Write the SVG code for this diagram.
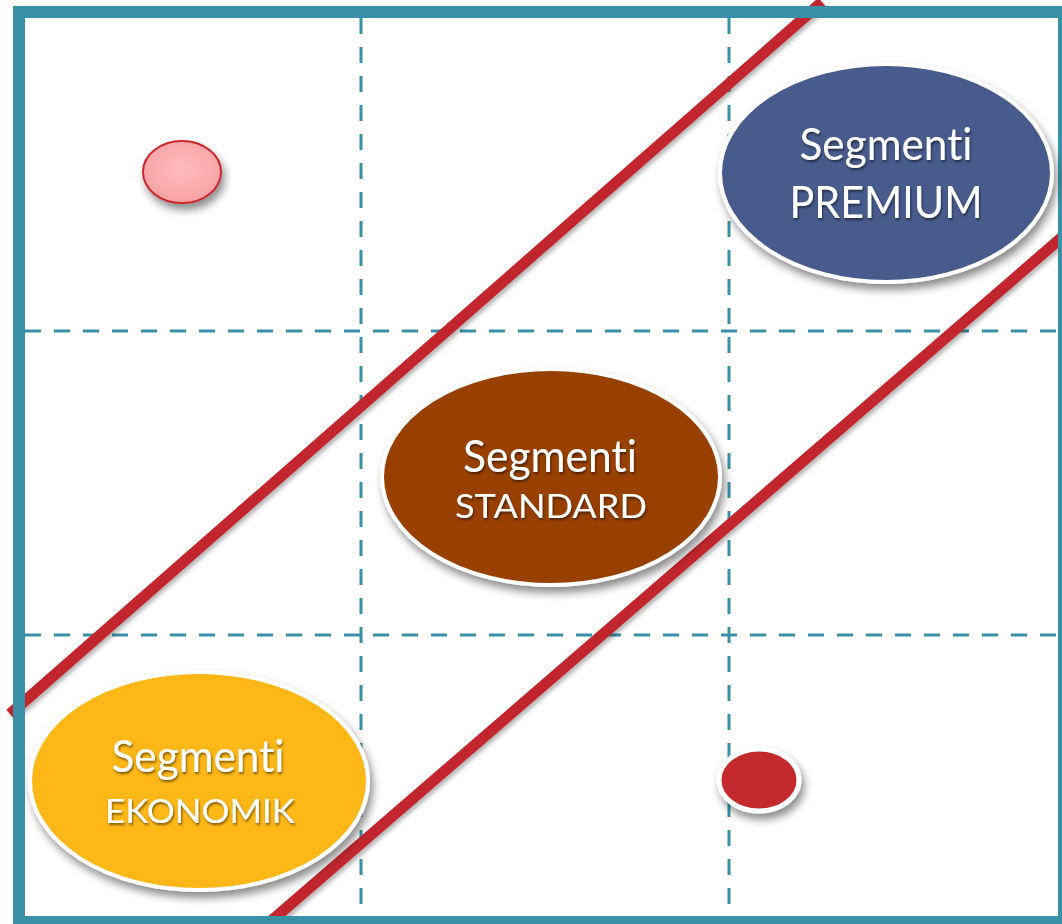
<svg xmlns="http://www.w3.org/2000/svg" width="1062" height="924" viewBox="0 0 1062 924">
  <defs>
    <style>
      .grid { stroke: #3A91A7; stroke-width: 3; stroke-dasharray: 16 13; fill: none; }
      .band { stroke: #C1272D; stroke-width: 11; fill: none; stroke-linecap: butt; }
      .seg { stroke: #FFFFFF; stroke-width: 4; }
      .lbl { font-family: Lato, "Open Sans", "DejaVu Sans", sans-serif; fill: #FFFFFF; text-anchor: middle; font-variant-ligatures: none; font-feature-settings: "liga" 0; }
      .big { font-size: 44px; }
      .small { font-size: 32px; }
    </style>
    <filter id="shadow" x="-20%" y="-20%" width="140%" height="150%">
      <feDropShadow dx="3" dy="6" stdDeviation="4" flood-color="#000" flood-opacity="0.45"/>
    </filter>
    <filter id="lineShadow" x="-10%" y="-10%" width="120%" height="120%">
      <feDropShadow dx="2" dy="3" stdDeviation="2" flood-color="#000" flood-opacity="0.3"/>
    </filter>
    <filter id="textShadow" x="-10%" y="-20%" width="120%" height="150%">
      <feDropShadow dx="1" dy="2" stdDeviation="1" flood-color="#000" flood-opacity="0.5"/>
    </filter>
    <radialGradient id="pink" cx="50%" cy="45%" r="55%">
      <stop offset="0" stop-color="#FFBCBE"/>
      <stop offset="1" stop-color="#F8A2A5"/>
    </radialGradient>
  </defs>

  <rect x="0" y="0" width="1062" height="924" fill="#FFFFFF"/>

  <g id="grid">
    <line class="grid" x1="361" y1="18" x2="361" y2="916"/>
    <line class="grid" x1="729" y1="18" x2="729" y2="916"/>
    <line class="grid" x1="25" y1="331" x2="1058" y2="331"/>
    <line class="grid" x1="25" y1="635" x2="1058" y2="635"/>
  </g>

  <g id="connectors" filter="url(#lineShadow)">
    <line class="band" x1="10" y1="714" x2="822" y2="2"/>
    <line class="band" x1="270" y1="922" x2="1068" y2="232"/>
  </g>

  <g id="frame">
    <rect x="19" y="12" width="1045" height="910" fill="none" stroke="#3A91A7" stroke-width="12"/>
  </g>

  <g id="node-premium">
    <ellipse class="seg" cx="886" cy="173" rx="166" ry="109" fill="#475B8D" filter="url(#shadow)"/>
    <g filter="url(#textShadow)">
      <text class="lbl big" x="886" y="160" textLength="173" lengthAdjust="spacingAndGlyphs">Segmenti</text>
      <text class="lbl big" x="886" y="218" textLength="193" lengthAdjust="spacingAndGlyphs">PREMIUM</text>
    </g>
  </g>

  <g id="node-standard">
    <ellipse class="seg" cx="551" cy="477" rx="169" ry="108" fill="#974105" filter="url(#shadow)"/>
    <g filter="url(#textShadow)">
      <text class="lbl big" x="550" y="472" textLength="174" lengthAdjust="spacingAndGlyphs">Segmenti</text>
      <text class="lbl small" x="551" y="518" textLength="192" lengthAdjust="spacingAndGlyphs">STANDARD</text>
    </g>
  </g>

  <g id="node-ekonomik">
    <ellipse class="seg" cx="199" cy="781" rx="169" ry="109" fill="#FDB714" filter="url(#shadow)"/>
    <g filter="url(#textShadow)">
      <text class="lbl big" x="198" y="772" textLength="173" lengthAdjust="spacingAndGlyphs">Segmenti</text>
      <text class="lbl small" x="200" y="823" textLength="190" lengthAdjust="spacingAndGlyphs">EKONOMIK</text>
    </g>
  </g>

  <g id="node-dot-pink">
    <ellipse cx="182" cy="172" rx="39" ry="31" fill="url(#pink)" stroke="#C8282C" stroke-width="2" filter="url(#shadow)"/>
  </g>

  <g id="node-dot-red">
    <ellipse cx="759" cy="780" rx="40" ry="31" fill="#C22B2D" stroke="#FFFFFF" stroke-width="5" filter="url(#shadow)"/>
  </g>
</svg>
